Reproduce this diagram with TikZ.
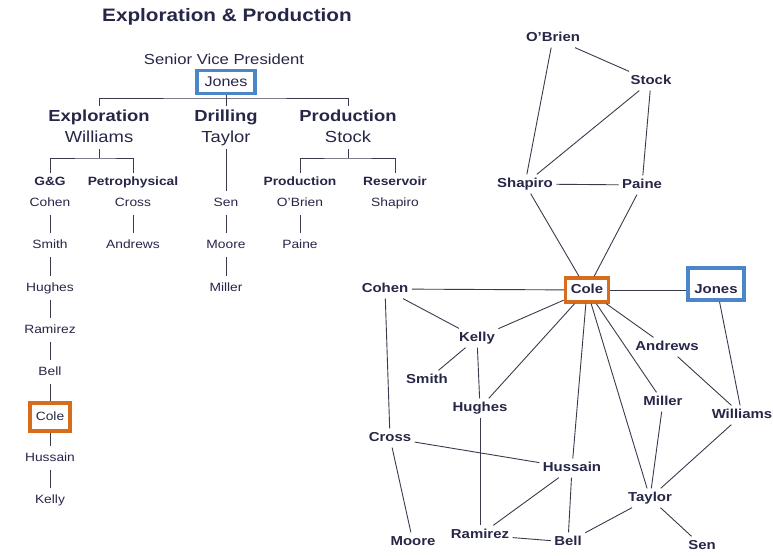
\documentclass[tikz,border=0pt]{standalone}
\usepackage{fontspec}
\setmainfont{Liberation Sans}[FakeStretch=1.15]
\definecolor{ink}{RGB}{38,38,72}
\definecolor{wire}{RGB}{58,58,78}
\definecolor{boxblue}{RGB}{74,134,200}
\definecolor{boxorange}{RGB}{214,108,28}
\newcommand{\fs}[1]{\fontsize{#1}{#1}\selectfont}

\begin{document}
\begin{tikzpicture}[x=1pt, y=-1pt,
  every node/.style={text=ink},
  title/.style={font=\fs{18}\bfseries},
  head/.style={font=\fs{16}\bfseries, text height=11.5pt, text depth=3.5pt},
  boss/.style={font=\fs{16}, text height=11.5pt, text depth=3.5pt},
  sub/.style={font=\fs{12}\bfseries, text height=8.6pt, text depth=2.6pt},
  staff/.style={font=\fs{12}, text height=8.6pt, text depth=2.6pt, inner sep=6pt},
  net/.style={font=\fs{13}\bfseries, text height=9.4pt, text depth=2.8pt},
  bluebox/.style={draw=boxblue, line width=3.5pt, inner sep=1pt},
  orangebox/.style={draw=boxorange, line width=3.5pt, inner sep=1pt},
  link/.style={draw=wire, line width=0.9pt}]
\useasboundingbox (0,0) rectangle (773,555);

\node[title] (title) at (227,17) {Exploration \& Production};
\node[font=\fs{14.5}] (svp) at (224,59) {Senior Vice President};
\node[boss, font=\fs{14}, bluebox, minimum width=58pt, minimum height=23pt] (jonesT) at (226,82) {Jones};
\coordinate (bar) at (226,98);

\node[head] (explH) at (99,117) {Exploration};
\node[boss] (willT) at (99,138) {Williams};
\node[head] (drillH) at (226,117) {Drilling};
\node[boss] (taylorT) at (226,138) {Taylor};
\node[head] (prodH) at (348,117) {Production};
\node[boss] (stockT) at (348,138) {Stock};
\draw[link] (jonesT) -- (bar);
\draw[link] (explH.north) |- (bar) -| (prodH.north);
\draw[link] (bar) -- (drillH.north);

\coordinate (gbar) at (99,158);
\node[sub] (gg) at (50,182) {G\&G};
\node[sub] (petro) at (133,182) {Petrophysical};
\draw[link] (willT) -- (gbar);
\draw[link] (gg.north) |- (gbar) -| (petro.north);

\node[staff] (cohenL) at (50,203) {Cohen};
\node[staff] (smithL) at (50,245) {Smith};
\node[staff] (hughesL) at (50,288) {Hughes};
\node[staff] (ramirezL) at (50,330) {Ramirez};
\node[staff] (bellL) at (50,372) {Bell};
\node[staff, orangebox, minimum width=40pt, minimum height=28pt] (coleL) at (50,417) {Cole};
\node[staff] (hussainL) at (50,458) {Hussain};
\node[staff] (kellyL) at (50,500) {Kelly};
\node[staff] (crossL) at (133,203) {Cross};
\node[staff] (andrewsL) at (133,245) {Andrews};
\draw[link] (cohenL) -- (smithL) -- (hughesL) -- (ramirezL) -- (bellL) -- (coleL) -- (hussainL) -- (kellyL);
\draw[link] (crossL) -- (andrewsL);

\node[staff] (senL) at (226,203) {Sen};
\node[staff] (mooreL) at (226,245) {Moore};
\node[staff] (millerL) at (226,288) {Miller};
\draw[link] (taylorT) -- (senL) -- (mooreL) -- (millerL);

\coordinate (pbar) at (348,158);
\node[sub] (prodS) at (300,182) {Production};
\node[sub] (resS) at (395,182) {Reservoir};
\node[staff] (obrienL) at (300,203) {O'Brien};
\node[staff] (shapiroL) at (395,203) {Shapiro};
\node[staff] (paineL) at (300,245) {Paine};
\draw[link] (stockT) -- (pbar);
\draw[link] (prodS.north) |- (pbar) -| (resS.north);
\draw[link] (obrienL) -- (paineL);

\node[net] (obrien) at (553,38) {O'Brien};
\node[net] (stock) at (651,81) {Stock};
\node[net] (shapiro) at (525,184) {Shapiro};
\node[net] (paine) at (642,185) {Paine};
\node[net, orangebox, minimum width=43pt, minimum height=24pt] (cole) at (587,290) {Cole};
\node[net, bluebox, text height=22pt, minimum width=56pt, minimum height=32pt] (jones) at (716,284) {Jones};
\node[net] (cohen) at (385,289) {Cohen};
\node[net] (kelly) at (477,338) {Kelly};
\node[net] (smith) at (427,380) {Smith};
\node[net] (hughes) at (480,408) {Hughes};
\node[net] (andrews) at (667,347) {Andrews};
\node[net] (miller) at (663,402) {Miller};
\node[net] (williams) at (742,415) {Williams};
\node[net] (cross) at (390,438) {Cross};
\node[net] (hussain) at (572,468) {Hussain};
\node[net] (taylor) at (650,498) {Taylor};
\node[net] (moore) at (413,542) {Moore};
\node[net] (ramirez) at (480,535) {Ramirez};
\node[net] (bell) at (568,542) {Bell};
\node[net] (sen) at (702,546) {Sen};

\draw[link] (obrien) -- (stock);
\draw[link] (obrien) -- (shapiro);
\draw[link] (stock) -- (shapiro);
\draw[link] (stock) -- (paine);
\draw[link] (shapiro) -- (paine);
\draw[link] (shapiro) -- (cole);
\draw[link] (paine) -- (cole);
\draw[link] (cohen) -- (cole);
\draw[link] (cole.east) -- (cole.east -| jones.west);
\draw[link] (cohen) -- (kelly);
\draw[link] (cohen) -- (cross);
\draw[link] (kelly) -- (cole);
\draw[link] (kelly) -- (smith);
\draw[link] (kelly) -- (hughes);
\draw[link] (hughes) -- (ramirez);
\draw[link] (hughes) -- (cole);
\draw[link] (cole) -- (hussain);
\draw[link] (hussain) -- (bell);
\draw[link] (cole) -- (taylor);
\draw[link] (cole) -- (miller);
\draw[link] (cole) -- (andrews);
\draw[link] (andrews) -- (williams);
\draw[link] (jones) -- (williams);
\draw[link] (williams) -- (taylor);
\draw[link] (miller) -- (taylor);
\draw[link] (taylor) -- (bell);
\draw[link] (taylor) -- (sen);
\draw[link] (cross) -- (hussain);
\draw[link] (cross) -- (moore);
\draw[link] (hussain) -- (ramirez);
\draw[link] (ramirez) -- (bell);
\end{tikzpicture}
\end{document}
